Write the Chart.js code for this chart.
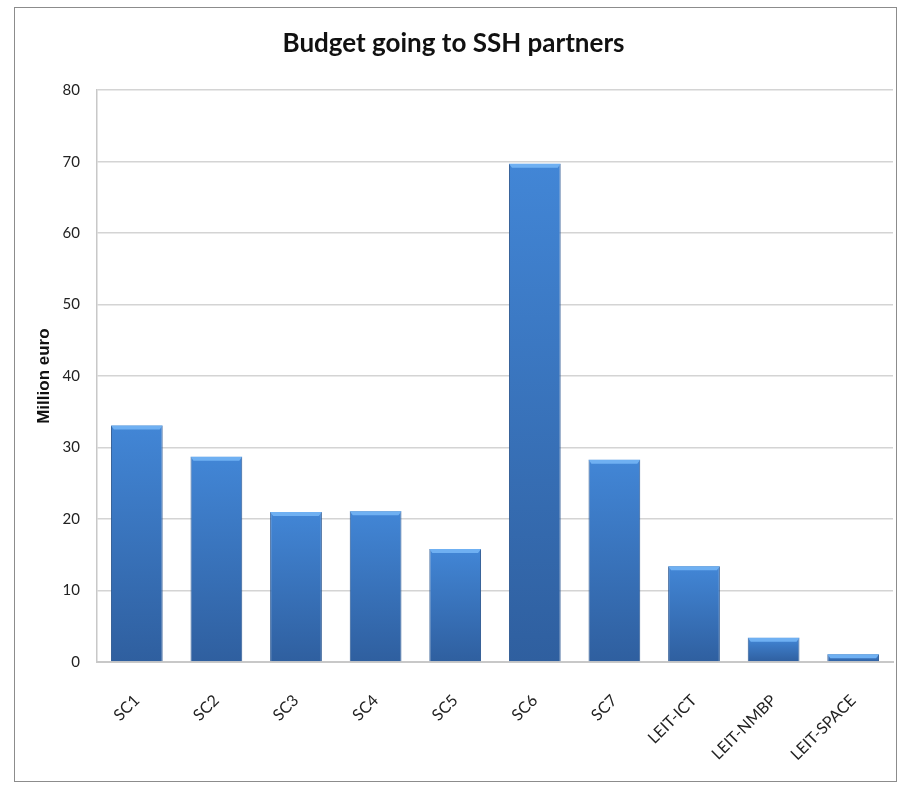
<!DOCTYPE html>
<html>
<head>
<meta charset="utf-8">
<script src="https://cdn.jsdelivr.net/npm/chart.js@4/dist/chart.umd.min.js"></script>
<style>
  html, body { margin: 0; padding: 0; background: #fff; }
  #wrap { width: 904px; height: 785px; }
</style>
</head>
<body>
<div id="wrap"><canvas id="budgetChart"></canvas></div>
<script>
// budget going to SSH partners, per H2020 programme part (million euro)
const categories = ['SC1', 'SC2', 'SC3', 'SC4', 'SC5', 'SC6', 'SC7', 'LEIT-ICT', 'LEIT-NMBP', 'LEIT-SPACE'];
const budget = [33.1, 28.7, 21.0, 21.1, 15.8, 69.7, 28.3, 13.4, 3.4, 1.1];
const yTicks = [0, 10, 20, 30, 40, 50, 60, 70, 80];

// outer frame round the whole chart
const framePlugin = {
    id: 'frame',
    beforeDraw(chart) {
        const c = chart.ctx;
        c.save();
        c.fillStyle = '#fff';
        c.fillRect(0, 0, chart.width, chart.height);
        c.strokeStyle = '#8c8c8c';
        c.lineWidth = 1;
        c.strokeRect(14.5, 7.5, chart.width - 22, chart.height - 11);
        c.restore();
    }
};

// light bevel on top of each bar
const bevelPlugin = {
    id: 'bevel',
    afterDatasetsDraw(chart) {
        const c = chart.ctx;
        const meta = chart.getDatasetMeta(0);
        c.save();
        meta.data.forEach(bar => {
            const w = bar.width;
            const x0 = bar.x - w / 2;
            const h = Math.min(4, bar.base - bar.y);
            c.fillStyle = '#6fb0f2';
            c.beginPath();
            c.moveTo(x0, bar.y);
            c.lineTo(x0 + w, bar.y);
            c.lineTo(x0 + w - 3, bar.y + h);
            c.lineTo(x0 + 3, bar.y + h);
            c.closePath();
            c.fill();
        });
        c.restore();
    }
};

const barFill = (context) => {
    const chart = context.chart;
    const area = chart.chartArea;
    if (!area) return '#3a72bb';
    const v = context.raw;
    const top = chart.scales.y.getPixelForValue(v);
    const bottom = chart.scales.y.getPixelForValue(0);
    const g = chart.ctx.createLinearGradient(0, top, 0, bottom);
    g.addColorStop(0, '#4286d6');
    g.addColorStop(1, '#2f5f9f');
    return g;
};

const ctx = document.getElementById('budgetChart');
new Chart(ctx, {
    type: 'bar',
    data: {
        labels: categories,
        datasets: [{
            label: 'Budget',
            data: budget,
            backgroundColor: barFill,
            borderColor: '#2b5790',
            borderWidth: 1,
            barPercentage: 0.65,
            categoryPercentage: 1.0
        }]
    },
    options: {
        responsive: true,
        maintainAspectRatio: false,
        animation: false,
        layout: { padding: { left: 14, right: 11, top: 0, bottom: 10 } },
        plugins: {
            legend: { display: false },
            tooltip: { enabled: false },
            title: {
                display: true,
                text: 'Budget going to SSH partners',
                color: '#111',
                font: { family: 'Lato', size: 26, weight: 'bold' },
                padding: { top: 28, bottom: 31 }
            }
        },
        scales: {
            x: {
                grid: { display: false, drawTicks: false },
                border: { color: '#c8c8c8', width: 2 },
                ticks: {
                    color: '#222',
                    font: { family: 'Lato', size: 16 },
                    minRotation: 45,
                    maxRotation: 45,
                    padding: 29
                },
                afterFit(scale) { scale.height = 113; }
            },
            y: {
                min: 0,
                max: 80,
                afterBuildTicks(scale) {
                    scale.ticks = yTicks.map(v => ({ value: v }));
                },
                grid: { color: '#d4d4d4', lineWidth: 1.5, drawTicks: false },
                border: { color: '#c8c8c8', width: 1.5 },
                ticks: {
                    color: '#222',
                    font: { family: 'Lato', size: 15 },
                    padding: 17
                },
                title: {
                    display: true,
                    text: 'Million euro',
                    color: '#111',
                    font: { family: 'Liberation Sans', size: 17, weight: 'bold' },
                    padding: { top: 20, bottom: 0 }
                },
                afterFit(scale) { scale.width = 83; }
            }
        }
    },
    plugins: [framePlugin, bevelPlugin]
});
</script>
</body>
</html>
